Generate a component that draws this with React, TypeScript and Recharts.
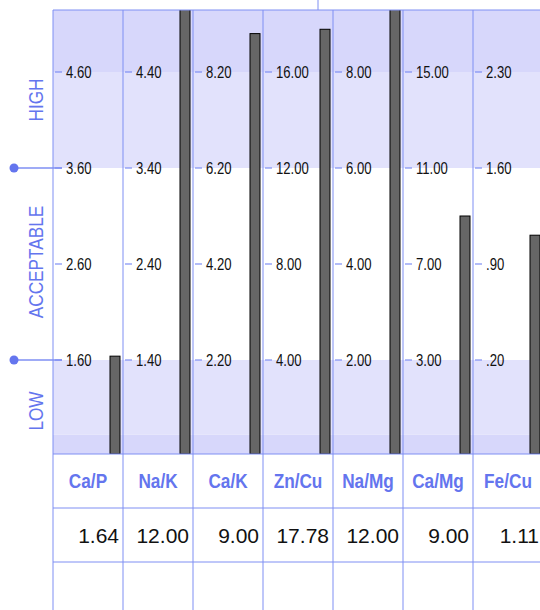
import React from "react";
import { Bar, BarChart, ReferenceArea, XAxis, YAxis } from "recharts";

const RATIOS = ["Ca/P", "Na/K", "Ca/K", "Zn/Cu", "Na/Mg", "Ca/Mg", "Fe/Cu"];
const VALUES = [1.64, 12.0, 9.0, 17.78, 12.0, 9.0, 1.11];
const TICKS = [
  [1.6, 2.6, 3.6, 4.6],
  [1.4, 2.4, 3.4, 4.4],
  [2.2, 4.2, 6.2, 8.2],
  [4, 8, 12, 16],
  [2, 4, 6, 8],
  [3, 7, 11, 15],
  [0.2, 0.9, 1.6, 2.3],
];
const ZONES = ["HIGH", "ACCEPTABLE", "LOW"];

// layout
const LEFT = 53;
const COL_W = 70;
const TOP = 10;
const PLOT_H = 444;
const STEP_PX = 96;
const ROW_H = 54;
const BAR_SHIFT = 27;
const LINE = "#7f8ff3";
const BLUE = "#6475ee";
const DARK_BAND = "#d7d7fb";
const LIGHT_BAND = "#e2e2fc";
const SANS = "'Liberation Sans', Arial, sans-serif";
const NARROW_X = 0.82;

const tickY = (k: number) => TOP + PLOT_H - 94 - k * STEP_PX; // y of k-th tick

const fmt = (v: number) => v.toFixed(2).replace(/^0\./, ".");

// Arial Narrow look-alike: Liberation Sans squeezed horizontally
function Narrow({ x, y, rotate = 0, anchor = "start", size, bold = false, fill, children }: any) {
  return (
    <g transform={`translate(${x} ${y}) rotate(${rotate}) scale(${NARROW_X} 1)`}>
      <text x={0} y={0} textAnchor={anchor} fontSize={size} fontWeight={bold ? "bold" : "normal"} fontFamily={SANS} fill={fill}>
        {children}
      </text>
    </g>
  );
}

function Tick(props: any) {
  const { y, payload } = props;
  return (
    <g>
      <line x1={2} x2={9} y1={y} y2={y} stroke={LINE} strokeWidth={1.2} />
      <Narrow x={13} y={y + 5.5} size={16} fill="#111">
        {fmt(payload.value)}
      </Narrow>
    </g>
  );
}

function RatioBar(props: any) {
  const { x, y, width, height } = props;
  return <rect x={x + BAR_SHIFT} y={y} width={width} height={height} fill="#666666" stroke="#000" strokeWidth={1} />;
}

function RatioColumn({ i }: { i: number }) {
  const ticks = TICKS[i];
  const step = ticks[1] - ticks[0];
  const min = ticks[0] - (step * 94) / STEP_PX;
  const max = ticks[3] + (step * 62) / STEP_PX;
  const lowEdge = ticks[0] - step * 0.775;
  const data = [{ name: RATIOS[i], value: VALUES[i] }];
  return (
    <BarChart width={COL_W} height={PLOT_H} data={data} margin={{ top: 0, right: 0, bottom: 0, left: 0 }}>
      <ReferenceArea y1={min} y2={lowEdge} fill={DARK_BAND} fillOpacity={1} stroke="none" />
      <ReferenceArea y1={lowEdge} y2={ticks[0]} fill={LIGHT_BAND} fillOpacity={1} stroke="none" />
      <ReferenceArea y1={ticks[2]} y2={ticks[3]} fill={LIGHT_BAND} fillOpacity={1} stroke="none" />
      <ReferenceArea y1={ticks[3]} y2={max} fill={DARK_BAND} fillOpacity={1} stroke="none" />
      <XAxis dataKey="name" hide />
      <YAxis
        mirror
        domain={[min, max]}
        allowDataOverflow
        ticks={ticks}
        axisLine={false}
        tickLine={false}
        tick={<Tick />}
        interval={0}
      />
      {/* bars rise from the bottom of each column's own scale */}
      <Bar
        dataKey={(d: any) => [min, d.value]}
        barSize={10}
        shape={<RatioBar />}
        isAnimationActive={false}
      />
    </BarChart>
  );
}

export default function App() {
  const zoneY = [100, 262, 411];
  const gridX = RATIOS.map((_, i) => LEFT + i * COL_W).concat([LEFT + RATIOS.length * COL_W]);
  return (
    <div style={{ position: "absolute", left: 0, top: 0, width: 540, height: 610, overflow: "hidden", background: "#fff" }}>
      <div style={{ position: "absolute", left: LEFT, top: TOP, display: "flex", width: COL_W * RATIOS.length }}>
        {RATIOS.map((r, i) => (
          <RatioColumn key={r} i={i} />
        ))}
      </div>
      <svg width={540} height={610} style={{ position: "absolute", left: 0, top: 0, pointerEvents: "none" }}>
        {/* zone labels */}
        {ZONES.map((z, k) => (
          <Narrow key={z} x={43} y={zoneY[k]} rotate={-90} anchor="middle" size={21} fill={BLUE}>
            {z}
          </Narrow>
        ))}
        {[tickY(2), tickY(0)].map((y) => (
          <g key={y}>
            <line x1={14} x2={LEFT + 9} y1={y} y2={y} stroke={LINE} strokeWidth={1.5} />
            <circle cx={14} cy={y} r={4.5} fill={BLUE} />
          </g>
        ))}
        {/* grid */}
        <line x1={318} x2={318} y1={0} y2={TOP} stroke={LINE} />
        <line x1={LEFT} x2={540} y1={TOP} y2={TOP} stroke={LINE} />
        {[TOP + PLOT_H, TOP + PLOT_H + ROW_H, TOP + PLOT_H + 2 * ROW_H].map((y) => (
          <line key={y} x1={LEFT} x2={540} y1={y} y2={y} stroke={LINE} />
        ))}
        {gridX.map((x) => (
          <line key={x} x1={x} x2={x} y1={TOP} y2={610} stroke={LINE} />
        ))}
        {/* table */}
        {RATIOS.map((r, i) => (
          <Narrow
            key={r}
            x={LEFT + i * COL_W + COL_W / 2}
            y={TOP + PLOT_H + ROW_H / 2 + 7}
            anchor="middle"
            size={21}
            bold
            fill={BLUE}
          >
            {r}
          </Narrow>
        ))}
        {VALUES.map((v, i) => (
          <text
            key={i}
            x={LEFT + (i + 1) * COL_W - 4}
            y={TOP + PLOT_H + ROW_H + ROW_H / 2 + 8}
            textAnchor="end"
            fontSize={21}
            fontFamily={SANS}
            fill="#111"
          >
            {v.toFixed(2)}
          </text>
        ))}
      </svg>
    </div>
  );
}
